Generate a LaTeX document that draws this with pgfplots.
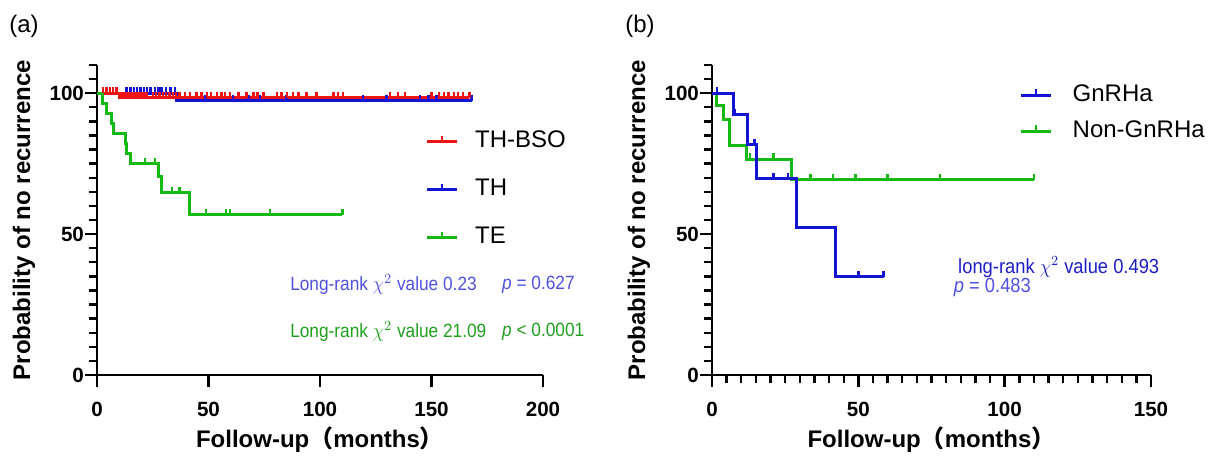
\documentclass[border=0pt]{standalone}
\usepackage{fontspec}
\setmainfont{Liberation Sans}
\newfontfamily\cjk{Noto Sans CJK SC}
\usepackage{pgfplots}
\pgfplotsset{compat=1.18}
\definecolor{kmred}{RGB}{238,20,20}
\definecolor{kmblue}{RGB}{20,20,215}
\definecolor{kmgreen}{RGB}{20,185,20}
\definecolor{txblue}{RGB}{80,80,225}
\definecolor{txdblue}{RGB}{30,30,200}
\definecolor{txgreen}{RGB}{30,160,30}

\tikzset{note/.style={anchor=west, inner sep=0pt, xscale=0.9, transform shape}}

\pgfplotsset{
  km/.style={
    scale only axis, height=155pt,
    ymin=0, ymax=110, ytick={0,50,100}, minor y tick num=9,
    extra y ticks={105,110}, extra y tick labels={},
    extra y tick style={major tick length=4pt},
    axis lines=left, axis line style={line width=1.3pt,-},
    every tick/.style={black, line width=1.2pt},
    major tick length=6pt, minor tick length=4pt, tick align=outside,
    hide obscured x ticks=false, hide obscured y ticks=false,
    ticklabel style={font=\fontsize{10.3}{12}\selectfont\bfseries},
    xticklabel style={yshift=-4pt},
    yticklabel style={xshift=3pt},
    /pgf/number format/assume math mode=true,
    ylabel={Probability of no recurrence},
    xlabel={Follow-up{\cjk （}months{\cjk ）}},
    label style={font=\fontsize{12}{14}\selectfont\bfseries},
    ylabel style={at={(axis description cs:0,0.5)}, anchor=center, yshift=36.5pt},
    xlabel style={at={(axis description cs:0.5,0)}, anchor=center, yshift=-32.5pt},
    clip=false,
    legend cell align=left,
    legend image code/.code={
      \draw[#1,mark=none] (0pt,0pt) -- (15pt,0pt);
      \draw[#1,mark=none,line width=1.2pt] (7.5pt,0pt) -- (7.5pt,3pt);},
    legend style={draw=none, fill=none, inner sep=0pt, anchor=north west,
      font=\fontsize{12}{14}\selectfont,
      nodes={text height=9pt, text depth=3pt, inner sep=0pt}},
  },
  curve/.style={const plot, line width=1.5pt, forget plot},
  cens/.style={only marks, mark=|, mark size=1.5pt,
    mark options={line width=1.2pt, yshift=1.4pt}, forget plot},
}

\begin{document}
\begin{tikzpicture}
\path[use as bounding box] (-48.5pt,-42.5pt) rectangle (555.5pt,187.5pt);

% (a)
\begin{axis}[km, width=223pt, at={(0pt,0pt)}, anchor=south west,
  xmin=0, xmax=200, xtick={0,50,100,150,200},
  legend style={at={(axis description cs:0.735,0.792)}, row sep=12pt,
    /tikz/every odd column/.append style={column sep=8.5pt}},
]
\addlegendimage{kmred, line width=1.5pt}\addlegendentry{TH-BSO}
\addlegendimage{kmblue, line width=1.5pt}\addlegendentry{TH}
\addlegendimage{kmgreen, line width=1.5pt}\addlegendentry{TE}

\addplot[curve, kmblue] coordinates {(0,100)(35.7,97.4)(168,97.4)};
\addplot[cens, kmblue] coordinates {
  (13.3,100)(15,100)(16.5,100)(18,100)(19.5,100)(21,100)(22.5,100)
  (24,100)(26,100)(27.5,100)(29,100)(31,100)(33,100)(35,100)
  (48.7,97.4)(61,97.4)(68,97.4)(73,97.4)(85,97.4)(119.4,97.4)
  (129.9,97.4)(144.8,97.4)(148.6,97.4)(152.3,97.4)(168,97.4)};

\addplot[curve, kmred] coordinates {(0,100)(10.3,98.3)(167,98.3)};
\addplot[cens, kmred] coordinates {
  (2.8,100)(4.3,100)(5.8,100)(7.3,100)(8.8,100)
  (11.5,98.3)(12.5,98.3)(13.5,98.3)(14.5,98.3)(15.5,98.3)(16.5,98.3)
  (17.5,98.3)(18.5,98.3)(19.5,98.3)(20.5,98.3)(21.5,98.3)(22.5,98.3)
  (25,98.3)(26.5,98.3)(28,98.3)(29.5,98.3)(31,98.3)(32.5,98.3)(34,98.3)
  (35.5,98.3)(37,98.3)(39.5,98.3)(41.7,98.3)(44.7,98.3)(46.9,98.3)
  (49.2,98.3)(51,98.3)(53.7,98.3)(55.9,98.3)(57.5,98.3)(59.6,98.3)
  (63.4,98.3)(67.1,98.3)(70.1,98.3)(72,98.3)(74.6,98.3)(80.6,98.3)
  (82.8,98.3)(85.1,98.3)(88,98.3)(90.3,98.3)(94,98.3)(98.5,98.3)
  (106,98.3)(108.2,98.3)(110.4,98.3)(131.4,98.3)(135.1,98.3)(138,98.3)
  (150,98.3)(153.3,98.3)(155.5,98.3)(157.7,98.3)(160,98.3)(162,98.3)
  (164,98.3)(167,98.3)};

\addplot[curve, kmgreen] coordinates {
  (0,100)(2.4,96.4)(4.3,92.9)(6.6,89.3)(7.3,85.7)(12.6,82.1)(13.3,78.6)
  (15.2,75)(27.5,70.3)(29,64.8)(41.7,56.8)(110,56.8)};
\addplot[cens, kmgreen] coordinates {
  (21.5,75)(26,75)(33.5,64.8)(37,64.8)(49,56.8)(57.8,56.8)(59.6,56.8)
  (77.6,56.8)(110,56.8)};

\node[note, text=txblue, font=\fontsize{9.6}{11}\selectfont]
  at (axis cs:86.5,32) {Long-rank $\chi^2$ value 0.23};
\node[note, text=txblue, font=\fontsize{9.6}{11}\selectfont]
  at (axis cs:181.5,32) {\textit{p} = 0.627};
\node[note, text=txgreen, font=\fontsize{9.6}{11}\selectfont]
  at (axis cs:86.5,15.5) {Long-rank $\chi^2$ value 21.09};
\node[note, text=txgreen, font=\fontsize{9.6}{11}\selectfont]
  at (axis cs:181.5,15.5) {\textit{p} < 0.0001};
\end{axis}
\node[font=\fontsize{12}{14}\selectfont] at (-36.5pt,174.5pt) {(a)};

% (b)
\begin{axis}[km, width=219.5pt, at={(307.5pt,0pt)}, anchor=south west,
  xmin=0, xmax=150, xtick={0,50,100,150}, minor x tick num=9,
  legend style={at={(axis description cs:0.70,0.942)}, row sep=6pt,
    /tikz/every odd column/.append style={column sep=10pt}},
]
\addlegendimage{kmblue, line width=1.5pt}\addlegendentry{GnRHa}
\addlegendimage{kmgreen, line width=1.5pt}\addlegendentry{Non-GnRHa}

\addplot[curve, kmgreen] coordinates {
  (0,100)(1.6,95.5)(3.9,90.8)(5.9,81.3)(11.8,76.6)(27.2,69.2)(110.1,69.2)};
\addplot[cens, kmgreen] coordinates {
  (12.9,76.6)(21,76.6)(33.6,69.2)(41.4,69.2)(49,69.2)(59.9,69.2)
  (77.9,69.2)(110,69.2)};

\addplot[curve, kmblue] coordinates {
  (0,100)(7.2,92.3)(12.2,81.7)(15.1,69.6)(29,52.3)(42.1,34.9)(58.6,34.9)};
\addplot[cens, kmblue] coordinates {
  (1.7,100)(7.9,92.3)(14.5,81.7)(21,69.6)(26,69.6)(50,34.9)(58.6,34.9)};

\node[note, text=txdblue, font=\fontsize{10.2}{12}\selectfont]
  at (axis cs:84,38.3) {long-rank $\chi^2$ value 0.493};
\node[note, text=txblue, font=\fontsize{10.2}{12}\selectfont]
  at (axis cs:82.5,30.9) {\textit{p} = 0.483};
\end{axis}
\node[font=\fontsize{12}{14}\selectfont] at (271.5pt,174.5pt) {(b)};
\end{tikzpicture}
\end{document}
